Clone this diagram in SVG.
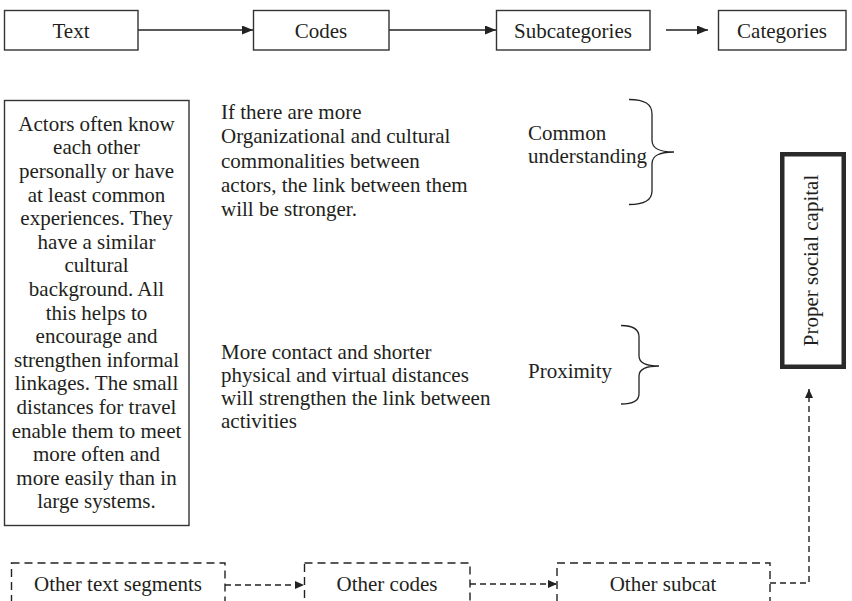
<svg xmlns="http://www.w3.org/2000/svg" width="852" height="601" viewBox="0 0 852 601">
<style>
text{font-family:"Liberation Serif","Times New Roman",serif;font-size:21px;fill:#231f20}
.c{text-anchor:middle}
.box{fill:#fff;stroke:#333;stroke-width:1.4}
.dbox{fill:none;stroke:#222;stroke-width:1.4;stroke-dasharray:8 5}
.ln{fill:none;stroke:#222;stroke-width:1.6}
.dln{fill:none;stroke:#222;stroke-width:1.4;stroke-dasharray:6 4}
.brace{fill:none;stroke:#222;stroke-width:1.3}
</style>
<defs>
<marker id="ah" markerUnits="userSpaceOnUse" markerWidth="11" markerHeight="9" refX="11" refY="4.5" orient="auto"><path d="M0,0 L11,4.5 L0,9 z" fill="#222" stroke="none"/></marker>
<marker id="ahs" markerUnits="userSpaceOnUse" markerWidth="9" markerHeight="8" refX="9" refY="4" orient="auto"><path d="M0,0 L9,4 L0,8 z" fill="#222" stroke="none"/></marker>
</defs>
<rect width="852" height="601" fill="#fff"/>
<g id="connectors">
<line class="ln" x1="138" y1="30" x2="253" y2="30" marker-end="url(#ah)"/>
<line class="ln" x1="389" y1="30" x2="496" y2="30" marker-end="url(#ah)"/>
<line class="ln" x1="666" y1="30" x2="708" y2="30" marker-end="url(#ah)"/>
<line class="dln" x1="225" y1="585" x2="304" y2="585" marker-end="url(#ahs)"/>
<line class="dln" x1="470" y1="584" x2="557" y2="584" marker-end="url(#ahs)"/>
<polyline class="dln" points="770,583 809,583 809,389" marker-end="url(#ahs)"/>
</g>
<g id="n-text"><rect class="box" x="4.5" y="10.5" width="133.5" height="39.5"/><text class="c" x="71" y="38">Text</text></g>
<g id="n-codes"><rect class="box" x="253.5" y="10.5" width="135.5" height="39.5"/><text class="c" x="321" y="38">Codes</text></g>
<g id="n-subcategories"><rect class="box" x="496.5" y="10.5" width="153.5" height="39.5"/><text class="c" x="573" y="38">Subcategories</text></g>
<g id="n-categories"><rect class="box" x="718.5" y="10.5" width="127.5" height="39.5"/><text class="c" x="782" y="38">Categories</text></g>
<g id="n-segment">
<rect class="box" x="4.5" y="100.5" width="184.5" height="425"/>
<text class="c" x="96.5" y="130.7">Actors often know</text>
<text class="c" x="96.5" y="154.3">each other</text>
<text class="c" x="96.5" y="177.9">personally or have</text>
<text class="c" x="96.5" y="201.5">at least common</text>
<text class="c" x="96.5" y="225.1">experiences. They</text>
<text class="c" x="96.5" y="248.7">have a similar</text>
<text class="c" x="96.5" y="272.3">cultural</text>
<text class="c" x="96.5" y="295.9">background. All</text>
<text class="c" x="96.5" y="319.5">this helps to</text>
<text class="c" x="96.5" y="343.1">encourage and</text>
<text class="c" x="96.5" y="366.7">strengthen informal</text>
<text class="c" x="96.5" y="390.3">linkages. The small</text>
<text class="c" x="96.5" y="413.9">distances for travel</text>
<text class="c" x="96.5" y="437.5">enable them to meet</text>
<text class="c" x="96.5" y="461.1">more often and</text>
<text class="c" x="96.5" y="484.7">more easily than in</text>
<text class="c" x="96.5" y="508.3">large systems.</text>
</g>
<g id="n-code1">
<text x="221" y="119">If there are more</text>
<text x="221" y="143.3">Organizational and cultural</text>
<text x="221" y="167.6">commonalities between</text>
<text x="221" y="191.9">actors, the link between them</text>
<text x="221" y="216.2">will be stronger.</text>
</g>
<g id="n-code2">
<text x="221" y="359">More contact and shorter</text>
<text x="221" y="382">physical and virtual distances</text>
<text x="221" y="405">will strengthen the link between</text>
<text x="221" y="428">activities</text>
</g>
<g id="n-common">
<text x="528" y="140">Common</text>
<text x="528" y="163">understanding</text>
<path class="brace" d="M629,99.5 C645,99.5 652,104 652,114 L652,140 C652,148 658,152 674,152 C658,152 652,156 652,164 L652,191 C652,200 645,204.5 629,204.5"/>
</g>
<g id="n-proximity">
<text x="528" y="378">Proximity</text>
<path class="brace" d="M621,325.5 C633,325.5 639,329 639,337 L639,356 C639,363 645,366 659,366 C645,366 639,369 639,376 L639,394 C639,401 633,404 621,404"/>
</g>
<g id="n-capital">
<rect x="782.25" y="154.25" width="61.5" height="212.5" fill="#fff" stroke="#2a2a2a" stroke-width="4.5"/>
<text class="c" transform="translate(818,260.5) rotate(-90)">Proper social capital</text>
</g>
<g id="n-othertext"><rect class="dbox" x="11.5" y="563" width="213.5" height="60"/><text class="c" x="118" y="591">Other text segments</text></g>
<g id="n-othercodes"><rect class="dbox" x="304.5" y="563" width="165.5" height="60"/><text class="c" x="387" y="591">Other codes</text></g>
<g id="n-othersubcat"><rect class="dbox" x="557" y="563" width="213" height="60"/><text class="c" x="663" y="591">Other subcat</text></g>
</svg>
